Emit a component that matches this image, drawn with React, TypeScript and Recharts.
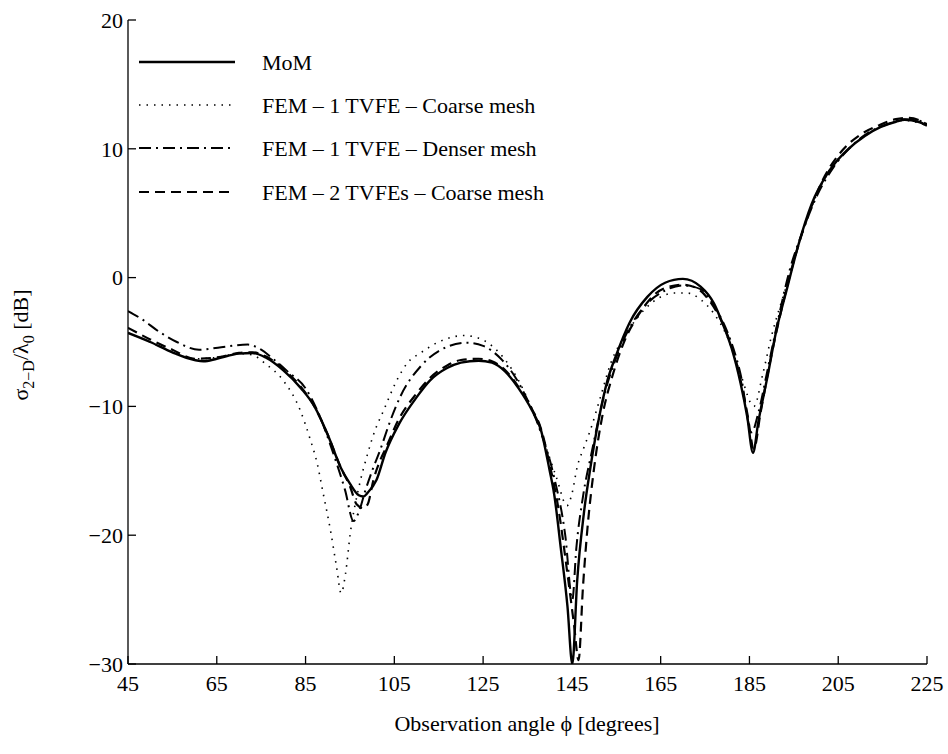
// Bistatic echo width vs observation angle: MoM vs FEM variants.
import { LineChart, Line, XAxis, YAxis } from 'recharts';

// ---- data ----
const xTicks = [45, 65, 85, 105, 125, 145, 165, 185, 205, 225];
const yTicks = [-30, -20, -10, 0, 10, 20];

const momAngles = [45, 50, 55, 60, 62, 65, 70, 73, 76, 80, 84, 87, 90, 93, 95, 97, 98, 99, 101, 103, 106, 110, 113, 117, 120, 124, 127, 130, 133, 136, 138, 140, 141, 142.5, 144, 145.1, 146.2, 147.7, 149.2, 151, 153, 155, 158, 162, 166, 170, 174, 177, 179, 181, 183, 184.5, 185.8, 187, 189, 191, 193.5, 196, 199, 203, 207, 211, 214.6, 218, 220, 223, 225];
const momValues = [-4.3, -5.0, -5.8, -6.4, -6.5, -6.3, -5.9, -5.85, -6.2, -7.2, -8.6, -10.0, -12.2, -14.8, -16.0, -16.9, -17.0, -16.7, -15.7, -13.6, -11.4, -9.3, -8.0, -7.0, -6.6, -6.45, -6.6, -7.3, -8.6, -10.3, -11.8, -15.0, -16.8, -21.0, -25.5, -30.0, -23.5, -18.3, -14.7, -11.1, -8.0, -6.0, -3.5, -1.5, -0.4, -0.1, -0.7, -2.0, -3.6, -5.5, -8.2, -10.8, -13.6, -11.2, -7.8, -4.2, -0.8, 2.5, 5.7, 8.3, 9.9, 11.0, 11.7, 12.1, 12.25, 12.1, 11.8];

const coarseAngles = [45, 50, 55, 60, 65, 70, 73, 76, 80, 83.8, 86, 87.6, 89, 90.6, 92, 93, 94, 95.1, 97, 98.8, 100.5, 102.6, 105.6, 108, 110.9, 115, 120.6, 124, 127, 130, 133, 136, 139, 141.5, 143.9, 145, 146.2, 147.7, 149.2, 151.5, 153.8, 157, 161, 165, 168, 171, 174, 177, 180, 183, 186, 188, 190, 193, 196, 199, 203, 207, 211, 215, 220, 225];
const coarseValues = [-4.3, -5.0, -5.8, -6.3, -6.2, -5.9, -6.0, -6.7, -8.0, -10.3, -12.5, -14.4, -16.8, -19.6, -22.5, -24.5, -23.0, -19.8, -16.3, -13.9, -12.0, -10.3, -7.95, -6.6, -5.85, -5.0, -4.5, -4.7, -5.3, -6.4, -8.0, -10.2, -13.0, -15.5, -17.7, -16.8, -14.7, -13.2, -11.8, -9.2, -6.6, -4.5, -2.6, -1.5, -1.2, -1.2, -1.7, -2.8, -4.6, -7.5, -10.0, -7.5, -4.5, -1.0, 2.5, 5.5, 8.3, 9.9, 11.0, 11.8, 12.2, 11.8];

const denserAngles = [45, 48, 52, 56, 61, 66, 72, 75, 78, 81, 85, 88, 91, 93.9, 95.8, 97, 98.5, 100, 101.8, 104, 106.4, 110.9, 115, 121.4, 125, 129, 132, 135, 138, 141, 143.5, 145.1, 146, 147.5, 149.5, 152, 155, 158, 162, 166, 170, 174, 177, 180, 183, 185.5, 187, 189, 191, 194, 197, 200, 204, 208, 212, 216, 220, 223, 225];
const denserValues = [-2.6, -3.2, -4.2, -5.0, -5.6, -5.4, -5.2, -5.6, -6.4, -7.3, -8.6, -10.6, -13.4, -16.5, -18.9, -18.2, -16.5, -15.0, -13.4, -11.2, -9.2, -6.9, -5.7, -5.05, -5.3, -6.3, -7.6, -9.5, -12.0, -15.5, -20.0, -25.0, -21.0, -17.0, -13.5, -9.5, -6.2, -3.9, -2.0, -1.0, -0.6, -0.9, -2.2, -4.2, -7.5, -12.0, -10.5, -7.3, -4.0, 0.5, 3.6, 6.2, 8.6, 10.2, 11.3, 11.9, 12.3, 12.2, 11.9];

const twoAngles = [45, 50, 55, 60, 65, 70, 73, 76, 80, 84, 87, 90, 93, 95, 96.5, 98, 99, 100.3, 101.8, 103, 106, 110, 113, 117, 120, 124, 127, 130, 133, 136, 138, 140, 142, 144, 145.5, 146.5, 147.5, 148.5, 150, 152, 154, 157, 160, 164, 167, 170, 173, 176, 179, 182, 184.5, 186, 187.5, 189.5, 192, 195, 198, 202, 206, 210, 214, 218, 221, 225];
const twoValues = [-3.9, -4.8, -5.6, -6.3, -6.2, -5.85, -5.8, -6.1, -7.1, -8.5, -10.0, -12.2, -14.8, -16.2, -17.6, -17.9, -17.6, -15.7, -14.2, -13.3, -11.0, -9.0, -7.8, -6.8, -6.4, -6.3, -6.5, -7.2, -8.5, -10.2, -11.7, -14.5, -18.0, -23.0, -27.0, -29.7, -24.0, -19.5, -14.8, -10.5, -7.8, -4.8, -2.9, -1.2, -0.7, -0.55, -0.8, -1.8, -3.6, -6.5, -10.5, -13.3, -10.5, -6.8, -2.8, 1.3, 4.6, 7.9, 9.9, 11.1, 11.8, 12.3, 12.4, 11.9];

const seriesNames = [
  'MoM',
  'FEM \u2013 1 TVFE \u2013 Coarse mesh',
  'FEM \u2013 1 TVFE \u2013 Denser mesh',
  'FEM \u2013 2 TVFEs \u2013 Coarse mesh',
];

const toRows = (angles: number[], values: number[]) =>
  angles.map((a, i) => ({ angle: a, value: values[i] }));

const FONT = "'Liberation Serif', 'Times New Roman', serif";
const W = 948;
const H = 754;

// line looks, same order as seriesNames
const styles = [
  { width: 2.4, dash: undefined as string | undefined },
  { width: 1.6, dash: '1.5 6' },
  { width: 2, dash: '12 5 2 5' },
  { width: 2.2, dash: '10 6' },
];

const fmtY = (v: number) => (v < 0 ? `\u2212${Math.abs(v)}` : String(v));

const textStyle = { fontFamily: FONT, fontWeight: 400 };

function YLabel() {
  return (
    <text
      transform="translate(28,345) rotate(-90)"
      textAnchor="middle"
      style={textStyle}
      fontSize={22}
      fill="#000"
    >
      {'σ'}
      <tspan fontSize={16} dy={6}>{'2\u2212D'}</tspan>
      <tspan dy={-6}>{'/λ'}</tspan>
      <tspan fontSize={16} dy={6}>0</tspan>
      <tspan dy={-6}>{' [dB]'}</tspan>
    </text>
  );
}

function XLabel() {
  return (
    <text x={527} y={731} textAnchor="middle" style={textStyle} fontSize={22} fill="#000">
      {'Observation angle ϕ [degrees]'}
    </text>
  );
}

// Legend drawn over the top-left of the plot
function LegendOverlay() {
  const rowsY = [70, 113, 156, 200];
  return (
    <svg
      width={W}
      height={H}
      style={{ position: 'absolute', left: 0, top: 0, pointerEvents: 'none' }}
    >
      {seriesNames.map((name, i) => (
        <g key={name}>
          <line
            x1={139}
            x2={235}
            y1={rowsY[i] - 8}
            y2={rowsY[i] - 8}
            stroke="#000"
            strokeWidth={styles[i].width}
            strokeDasharray={styles[i].dash}
          />
          <text x={262} y={rowsY[i]} style={textStyle} fontSize={22} fill="#000">
            {name}
          </text>
        </g>
      ))}
    </svg>
  );
}

export default function App() {
  const all = [
    toRows(momAngles, momValues),
    toRows(coarseAngles, coarseValues),
    toRows(denserAngles, denserValues),
    toRows(twoAngles, twoValues),
  ];
  const tickStyle = { fill: '#000', fontSize: 22, style: textStyle };

  return (
    <div style={{ position: 'absolute', left: 0, top: 0, width: W, height: H, background: '#fff', fontFamily: FONT }}>
      <LineChart width={W} height={H} margin={{ top: 20, right: 21, bottom: 30, left: 0 }}>
        <XAxis
          dataKey="angle"
          type="number"
          domain={[45, 225]}
          ticks={xTicks}
          allowDataOverflow
          height={60}
          tickSize={-8}
          tickMargin={19}
          tick={tickStyle}
          stroke="#000"
          strokeWidth={1.3}
          label={{ content: () => <XLabel /> }}
        />
        <XAxis
          xAxisId="top"
          orientation="top"
          type="number"
          domain={[45, 225]}
          ticks={xTicks}
          height={0}
          tickSize={-8}
          tick={false}
          stroke="#000"
          strokeWidth={1.3}
        />
        <YAxis
          type="number"
          domain={[-30, 20]}
          ticks={yTicks}
          allowDataOverflow
          width={128}
          tickSize={-8}
          tickMargin={13}
          tickFormatter={fmtY}
          tick={tickStyle}
          stroke="#000"
          strokeWidth={1.3}
          label={{ content: () => <YLabel /> }}
        />
        <YAxis
          yAxisId="right"
          orientation="right"
          type="number"
          domain={[-30, 20]}
          ticks={yTicks}
          width={0}
          tickSize={-8}
          tick={false}
          stroke="#000"
          strokeWidth={1.3}
        />
        {all.map((rows, i) => (
          <Line
            key={seriesNames[i]}
            data={rows}
            dataKey="value"
            name={seriesNames[i]}
            type="monotone"
            stroke="#000"
            strokeWidth={styles[i].width}
            strokeDasharray={styles[i].dash}
            dot={false}
            activeDot={false}
            isAnimationActive={false}
          />
        ))}
      </LineChart>
      <LegendOverlay />
    </div>
  );
}
